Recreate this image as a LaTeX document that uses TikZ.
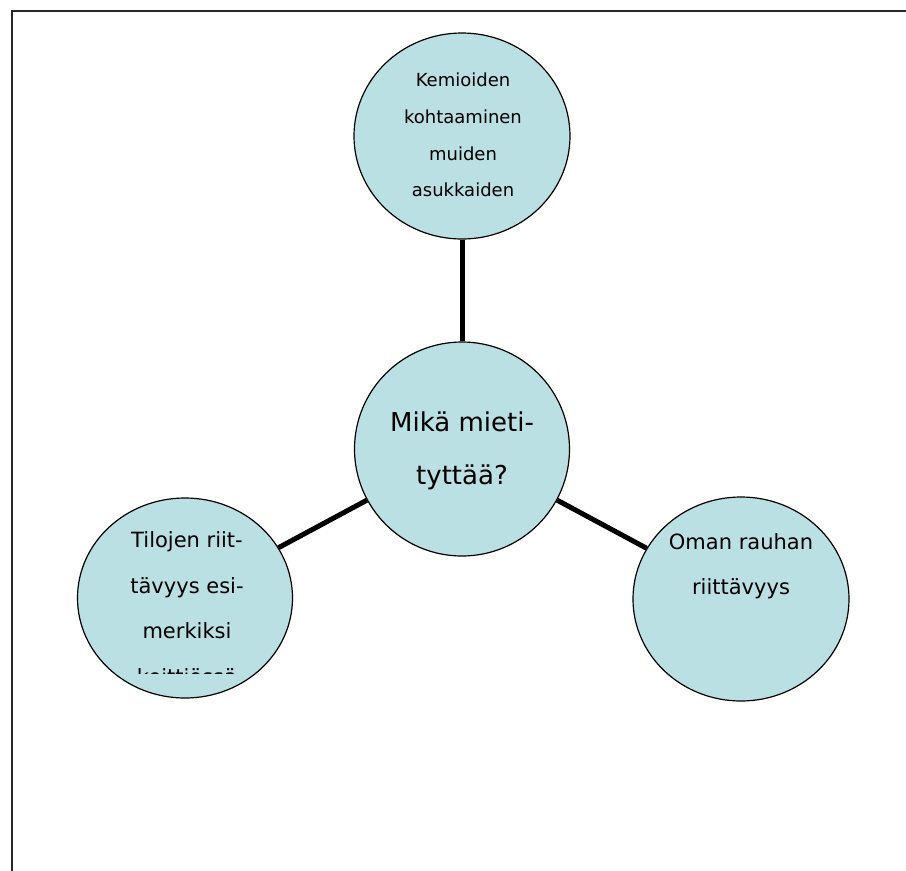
\documentclass[tikz,border=0pt]{standalone}
\usepackage{fontspec}
\setmainfont{DejaVu Sans}
\usetikzlibrary{shapes.geometric}
\definecolor{topicfill}{HTML}{BAE0E3}
\tikzset{
  topic/.style   ={ellipse, draw=black, line width=1.2pt, fill=topicfill,
                   inner sep=0pt},
  topictxt/.style={align=center, inner sep=0pt, text=black},
  smalltxt/.style={topictxt, font=\fontsize{18}{36.7}\selectfont},
  midtxt/.style  ={topictxt, font=\fontsize{21}{45.5}\selectfont},
  bigtxt/.style  ={topictxt, font=\fontsize{26}{53}\selectfont},
  link/.style    ={draw=black, line width=5pt},
  frame/.style   ={draw=black!85, line width=2pt},
}

\begin{document}
\begin{tikzpicture}[x=1pt,y=-1pt]
  \useasboundingbox (0,0) rectangle (906,871);
  \draw[frame] (12,871) -- (12,11) -- (906,11);

  \node[topic, minimum width=216pt, minimum height=206pt] (kemio) at (462,136) {};
  \node[topic, minimum width=215pt, minimum height=214pt] (mika) at (462,449) {};
  \node[topic, minimum width=215pt, minimum height=200pt] (tilat) at (185,598) {};
  \node[topic, minimum width=216pt, minimum height=204pt] (rauha) at (741,599) {};

  \draw[link] (kemio) -- (mika);
  \draw[link] (mika) -- (tilat);
  \draw[link] (mika) -- (rauha);

  \node[smalltxt] (kemiotxt) at (463,135) {Kemioiden\\kohtaaminen\\muiden\\asukkaiden};
  \node[bigtxt] (mikatxt) at (462,451) {Mikä mieti-\\tyttää?};
  \begin{scope}
    \clip (0,0) rectangle (906,673);
    \node[midtxt] (tilattxt) at (187,608) {Tilojen riit-\\tävyys esi-\\merkiksi\\keittiössä};
  \end{scope}
  \node[midtxt] (rauhatxt) at (741,566) {Oman rauhan\\riittävyys};
\end{tikzpicture}
\end{document}
